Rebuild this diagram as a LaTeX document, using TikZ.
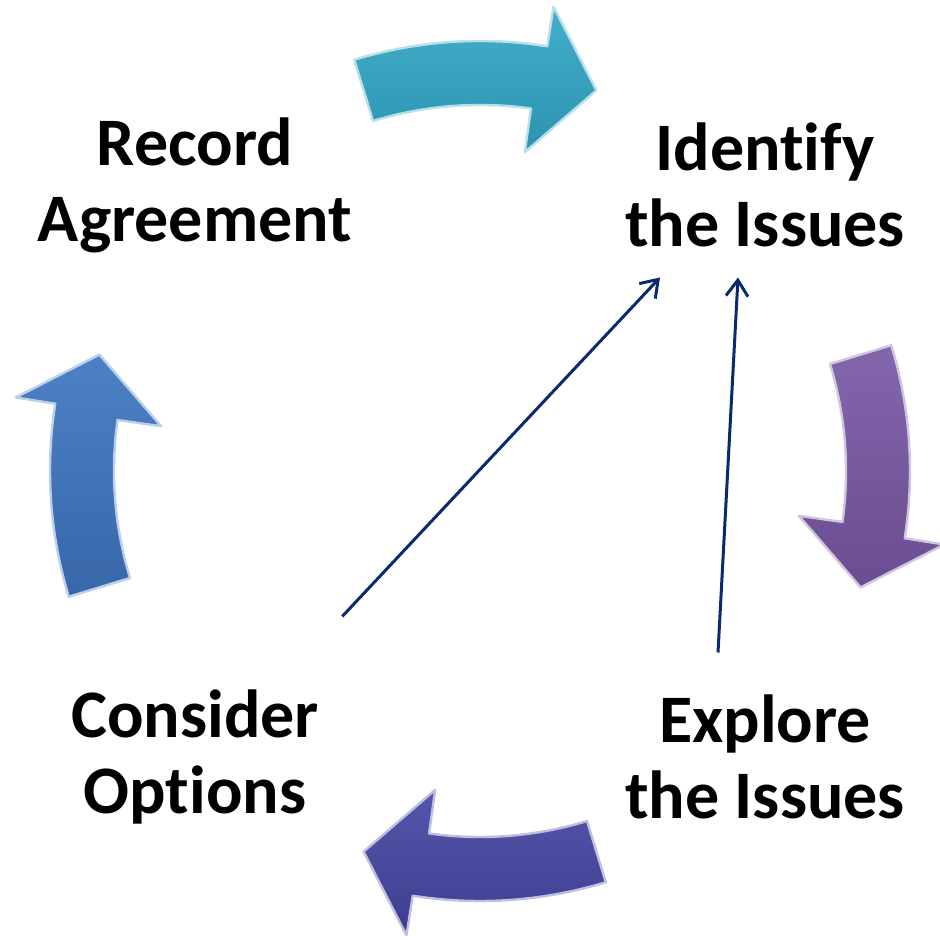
\documentclass[tikz,border=0pt]{standalone}
\usepackage{fontspec}
\setmainfont{Carlito}[Ligatures = NoCommon]
\usetikzlibrary{arrows.meta}

\definecolor{arrteal}{HTML}{33A7C7}
\definecolor{arrpurple}{HTML}{7858A4}
\definecolor{arrindigo}{HTML}{4646A4}
\definecolor{arrblue}{HTML}{3E75C0}
\definecolor{navylink}{HTML}{0B2A6E}

\begin{document}
\begin{tikzpicture}[x=0.5pt, y=0.5pt,
                    >={Straight Barb[length=8pt, width=11pt]},
                    steplabel/.style = {font = \bfseries\fontsize{34}{38}\selectfont,
                                        align = center, inner sep = 0pt},
                    link/.style = {->, draw = navylink, line width = 1.5pt},
                    bigarrow/.style = {top color = #1!92!white, bottom color = #1!88!black,
                                       draw = #1!35!white, line width = 1.2pt, line join = round}
                   ]
     \useasboundingbox (0,0) rectangle (939,940);

     % the four steps
     \node[steplabel] (ident)    at (765,755) {Identify\\the Issues};
     \node[steplabel] (explore)  at (765,183) {Explore\\the Issues};
     \node[steplabel] (consider) at (195,183) {Consider\\Options};
     \node[steplabel] (record)   at (195,755) {Record\\Agreement};

     % curved block arrows round the cycle
     \foreach \c/\col in {90/arrteal, 0/arrpurple, -90/arrindigo, 180/arrblue}
       \path[bigarrow = \col, shift = {(480,469)}]
             (\c+17:430) arc[start angle = \c+17, end angle = \c-9, radius = 430]
             -- (\c-9:470) -- (\c-17:398) -- (\c-8:322) -- (\c-8:366)
             arc[start angle = \c-8, end angle = \c+17, radius = 366] -- cycle;

     % back links
     \draw[link] ([xshift = 11.5pt, yshift = 36.5pt]consider.north east)
                 -- ([xshift = -52.5pt, yshift = -15pt]ident.south);
     \draw[link] ([xshift = -23.5pt, yshift = 21pt]explore.north)
                 -- ([xshift = -13.5pt, yshift = -15pt]ident.south);
\end{tikzpicture}
\end{document}
